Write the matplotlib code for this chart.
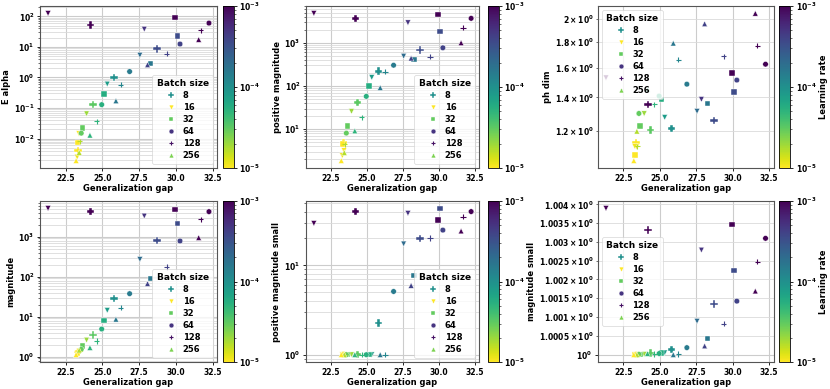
import numpy as np
import matplotlib
matplotlib.use("Agg")
import matplotlib.pyplot as plt
from matplotlib.colors import LogNorm
from matplotlib.lines import Line2D
from matplotlib.ticker import MultipleLocator, LogLocator

plt.rcParams['font.family'] = 'DejaVu Sans'
plt.rcParams['font.weight'] = 'bold'
plt.rcParams['axes.labelweight'] = 'bold'
plt.rcParams['mathtext.default'] = 'bf'

# one entry per training run
gap = [21.3, 24.2, 26.85, 25.8, 25.33, 26.25, 25.12, 25.92, 24.35, 24.95, 23.92, 24.62,
       23.63, 23.56, 23.4, 24.15, 23.45, 23.3, 23.35, 23.42, 23.28, 23.21, 29.95, 32.25,
       27.85, 31.68, 30.1, 31.55, 30.28, 28.7, 29.38, 27.55, 28.27, 28.07]
batch = [16, 8, 64, 8, 16, 128, 32, 256, 8, 64, 16, 128, 32, 64, 16, 256, 128, 32, 8, 256,
         16, 256, 32, 64, 16, 128, 32, 256, 64, 8, 128, 16, 32, 256]
lr = [1e-3, 1e-3, 1.5e-4, 1e-4, 8e-5, 1.2e-4, 5.8e-5, 1.6e-4, 3.2e-5, 5.5e-5, 2e-5, 5e-5,
      3e-5, 3e-5, 1e-5, 5e-5, 1.7e-5, 1e-5, 1e-5, 1.7e-5, 1.1e-5, 1e-5, 1e-3, 1e-3,
      5e-4, 1e-3, 3.5e-4, 1e-3, 4e-4, 3.5e-4, 4e-4, 2e-4, 1.6e-4, 4e-4]

e_alpha = [125, 52.8, 1.56, 1.0, 0.61, 0.58, 0.285, 0.171, 0.129, 0.129, 0.065, 0.0373,
           0.0219, 0.015, 0.0146, 0.0129, 0.0082, 0.0075, 0.004, 0.0035, 0.0025, 0.0019,
           92.7, 60, 38, 34.4, 22.8, 17.4, 12.4, 8.7, 5.96, 5.37, 2.86, 2.59]
pos_mag = [4800, 3680, 302, 219, 158, 212, 101, 91.5, 41.7, 57.5, 25.8, 19, 12, 8.1, 3.2,
           9.1, 4.5, 4.6, 4.9, 2.86, 2.44, 1.87, 4480, 3680, 2920, 2230, 1835, 1000, 766,
           687, 481, 490, 410, 440]
ph_dim = [1.53, 1.356, 1.486, 1.215, 1.278, 1.66, 1.387, 1.79, 1.207, 1.408, 1.30, 1.356,
          1.228, 1.301, 1.118, 1.452, 1.12, 1.076, 1.14, 1.20, 1.12, 1.05, 1.564, 1.627,
          1.387, 1.77, 1.435, 2.05, 1.514, 1.26, 1.687, 1.314, 1.36, 1.955]
magnitude = [5110, 4220, 37.6, 28.2, 14.4, 16.8, 8.1, 8.6, 3.5, 4.9, 2.6, 2.47, 1.85, 1.52,
             1.35, 1.68, 1.4, 1.25, 1.3, 1.45, 1.2, 1.12, 4820, 4220, 3290, 2710, 2150,
             945, 780, 794, 175, 271, 89, 67]
pos_mag_small = [29.5, 40, 5.1, 2.25, 1, 1, 1, 1, 1, 1, 1, 1, 1, 1, 1, 1, 1, 1, 1, 1, 1, 1,
                 32.2, 40, 38.3, 35, 43.5, 24.2, 24.8, 20, 20.2, 17.4, 7.7, 5.95]
mag_small = [1.003893, 1.003316, 1.000187, 1.000142, 1.00005, 1.00002, 1.00004, 1.0,
             1.00004, 1.00003, 1.00001, 1.00002, 1.00001, 1.00001, 1.0, 1.00003, 1.0, 1.0,
             1.0, 1.0, 1.0, 1.0, 1.003467, 1.003093, 1.002782, 1.002471, 1.00224, 1.001689,
             1.001422, 1.001342, 1.000827, 1.000889, 1.000427, 1.000231]

batch_sizes = [8, 16, 32, 64, 128, 256]
markers = {8: 'P', 16: 'v', 32: 's', 64: 'o', 128: '+', 256: '^'}
legend_lr = {8: 1e-4, 16: 1e-5, 32: 3e-5, 64: 5e-4, 128: 8e-4, 256: 2.5e-5}

panels = [('E alpha', e_alpha, 'lower right'),
          ('positive magnitude', pos_mag, 'lower right'),
          ('ph dim', ph_dim, 'upper left'),
          ('magnitude', magnitude, 'lower right'),
          ('positive magnitude small', pos_mag_small, 'lower right'),
          ('magnitude small', mag_small, 'center left')]

W, H = 830, 389
def px(l, t, r, b):
    return [l / W, 1 - b / H, (r - l) / W, (b - t) / H]

cols = [(40, 217, 222.5, 233.5), (306, 479, 488, 498.5), (598, 773.5, 778.5, 790)]
rows = [(6, 168), (201, 362)]

cmap = plt.get_cmap('viridis_r')
norm = LogNorm(vmin=1e-5, vmax=1e-3)
gap = np.array(gap)
batch = np.array(batch)
lr = np.array(lr)

fig = plt.figure(figsize=(8.3, 3.89), dpi=100)
for i, (name, vals, loc) in enumerate(panels):
    r, c = divmod(i, 3)
    t, b = rows[r]
    l, rr, cl, cr = cols[c]
    ax = fig.add_axes(px(l, t, rr, b))
    cax = fig.add_axes(px(cl, t, cr, b))
    vals = np.array(vals)
    for bs in batch_sizes:
        idx = batch == bs
        m = markers[bs]
        if m == '+':
            ax.scatter(gap[idx], vals[idx], c=lr[idx], cmap=cmap, norm=norm, marker=m,
                       s=14, linewidths=0.8, zorder=3)
        else:
            ax.scatter(gap[idx], vals[idx], c=lr[idx], cmap=cmap, norm=norm, marker=m,
                       s=30 if m == 'P' else 16, edgecolors='white', linewidths=0.3,
                       zorder=3)
    ax.set_yscale('log')
    ax.yaxis.set_major_locator(LogLocator(base=10, numticks=50))
    ax.yaxis.set_minor_locator(LogLocator(base=10, subs=np.arange(2, 10), numticks=50))
    ax.xaxis.set_major_locator(MultipleLocator(2.5))
    ax.grid(True, which='major', color='#cccccc', lw=0.8)
    ax.grid(True, which='minor', axis='y', color='#dadada', lw=0.6)
    ax.set_axisbelow(True)
    ax.tick_params(which='both', labelsize=5.5, width=0.6, pad=1.5)
    ax.tick_params(which='major', length=2.5)
    ax.tick_params(which='minor', length=1.5, width=0.4)
    for s in ax.spines.values():
        s.set_color('#555555')
        s.set_linewidth(0.8)
    ax.set_xlabel('Generalization gap', fontsize=6, labelpad=1)
    ax.set_ylabel(name, fontsize=6, labelpad=2)

    handles = [Line2D([], [], ls='none', marker=markers[bs], color=cmap(norm(legend_lr[bs])),
                      markersize=3.5 if markers[bs] != 'P' else 4.5,
                      markeredgecolor=cmap(norm(legend_lr[bs])) if markers[bs] == '+' else 'white',
                      markeredgewidth=0.8 if markers[bs] == '+' else 0.3)
               for bs in batch_sizes]
    leg = ax.legend(handles, [str(bs) for bs in batch_sizes], title='Batch size', loc=loc,
                    fontsize=6, title_fontsize=6.5, labelspacing=0.35, handletextpad=0.6,
                    borderpad=0.5, handlelength=1.5)
    leg.get_title().set_fontweight('bold')
    leg.get_frame().set_linewidth(0.5)

    sm = plt.cm.ScalarMappable(cmap=cmap, norm=norm)
    cb = fig.colorbar(sm, cax=cax)
    cb.ax.tick_params(labelsize=5.5, length=2.5, width=0.6, pad=1.5)
    cb.ax.tick_params(which='minor', length=1.5, width=0.4)
    cb.outline.set_linewidth(0.6)
    if c == 2:
        cb.set_label('Learning rate', fontsize=6, labelpad=2)

fig.savefig('out.png', dpi=100)
